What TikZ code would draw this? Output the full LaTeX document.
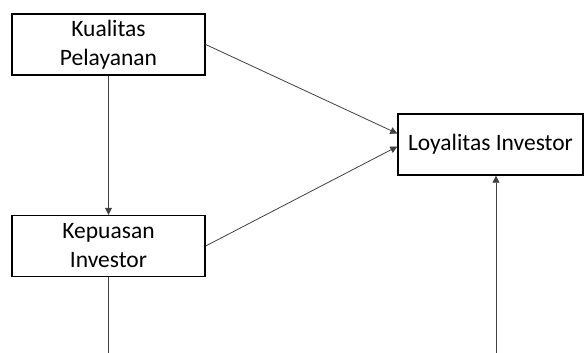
\documentclass[tikz,border=0pt]{standalone}
\usepackage{fontspec}
\setmainfont{Carlito}
\usepackage{tikz}
\usetikzlibrary{positioning,arrows.meta}

\begin{document}
\begin{tikzpicture}[
  x=1pt, y=-1pt,
  font=\fontsize{23.5}{29}\selectfont,
  every node/.style={draw, line width=1.4pt, align=center, inner sep=0pt},
  varbox/.style={minimum width=193pt, minimum height=61pt},
  link/.style={draw=black!75, line width=0.8pt, -{Triangle[length=7pt, width=7pt]}},
  plain/.style={draw=black!75, line width=0.8pt}]
\useasboundingbox (0,0) rectangle (584,353);
\node[varbox] (kualitas) at (108.5,44.5) {Kualitas\\Pelayanan};
\node[varbox] (kepuasan) at (108.5,246) {Kepuasan\\Investor};
\node[minimum width=185pt, minimum height=61pt] (loyal) at (490.5,144.5) {Loyalitas Investor};
\coordinate (endleft) at (108.5,353);
\coordinate (endright) at (496,353);

\draw[link] (kualitas.south) -- (kepuasan.north);
\draw[link] (kualitas.east) -- ([yshift=11pt]loyal.west);
\draw[link] (kepuasan.east) -- ([yshift=-2pt]loyal.west);
\draw[plain] (kepuasan.south) -- (endleft);
\draw[link] (endright) -- (endright |- loyal.south);
\end{tikzpicture}
\end{document}
